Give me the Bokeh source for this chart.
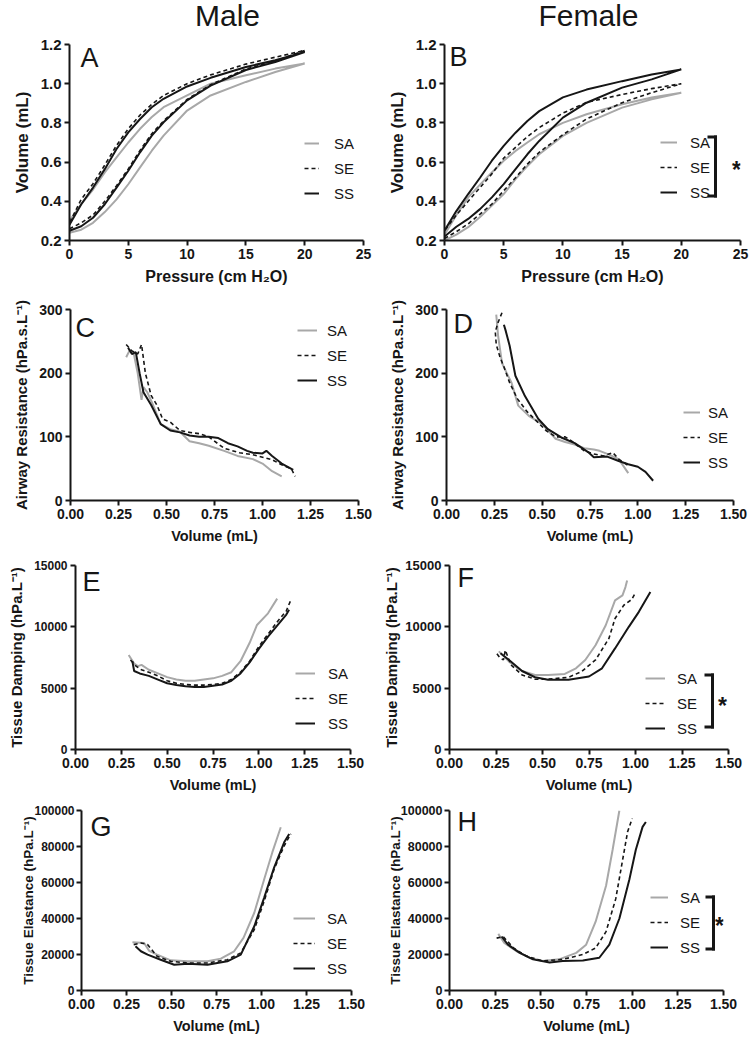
from bokeh.plotting import figure
from bokeh.layouts import column, row
from bokeh.models import (Range1d, FixedTicker, PrintfTickFormatter, Legend, LegendItem,
                          Label, BoxAnnotation)
from bokeh.embed import file_html
from bokeh.resources import INLINE

# ---------------------------------------------------------------- data
groups = ["SA", "SE", "SS"]
column_titles = ["Male", "Female"]

# Pressure-volume loops (pressure in cm H2O, volume in mL)
pressure = [0, 1, 2, 3, 4, 5, 6, 7, 8, 10, 12, 15, 17.5, 20]

male_SA_inflation = [0.24, 0.255, 0.29, 0.345, 0.41, 0.487, 0.573, 0.658, 0.735, 0.863, 0.94, 1.009, 1.06, 1.103]
male_SA_deflation = [0.30, 0.385, 0.46, 0.547, 0.624, 0.70, 0.77, 0.83, 0.88, 0.94, 1.0, 1.043, 1.077, 1.103]
male_SE_inflation = [0.26, 0.29, 0.33, 0.40, 0.48, 0.565, 0.66, 0.745, 0.81, 0.92, 0.995, 1.075, 1.115, 1.17]
male_SE_deflation = [0.29, 0.41, 0.49, 0.585, 0.685, 0.77, 0.84, 0.895, 0.94, 1.0, 1.045, 1.10, 1.135, 1.17]
male_SS_inflation = [0.25, 0.273, 0.316, 0.385, 0.47, 0.556, 0.65, 0.735, 0.803, 0.915, 0.99, 1.07, 1.11, 1.162]
male_SS_deflation = [0.28, 0.385, 0.47, 0.564, 0.667, 0.752, 0.82, 0.88, 0.923, 0.986, 1.03, 1.085, 1.12, 1.162]

female_SA_inflation = [0.20, 0.23, 0.268, 0.32, 0.378, 0.437, 0.513, 0.58, 0.64, 0.734, 0.80, 0.878, 0.92, 0.954]
female_SA_deflation = [0.23, 0.33, 0.42, 0.485, 0.547, 0.607, 0.657, 0.70, 0.742, 0.80, 0.844, 0.895, 0.93, 0.954]
female_SE_inflation = [0.21, 0.245, 0.285, 0.335, 0.386, 0.454, 0.52, 0.59, 0.65, 0.74, 0.82, 0.903, 0.954, 1.0]
female_SE_deflation = [0.25, 0.33, 0.40, 0.47, 0.54, 0.62, 0.675, 0.73, 0.776, 0.85, 0.905, 0.945, 0.975, 1.0]
female_SS_inflation = [0.22, 0.27, 0.31, 0.36, 0.42, 0.488, 0.564, 0.64, 0.708, 0.827, 0.903, 0.98, 1.022, 1.073]
female_SS_deflation = [0.25, 0.35, 0.437, 0.52, 0.607, 0.683, 0.75, 0.81, 0.86, 0.93, 0.97, 1.013, 1.047, 1.073]

# Airway resistance (hPa.s.L-1) vs volume (mL)
male_res_SA_vol = [0.29, 0.31, 0.33, 0.35, 0.37, 0.38, 0.40, 0.43, 0.47, 0.52, 0.57, 0.62, 0.67, 0.72, 0.80, 0.87, 0.95, 1.00, 1.05, 1.10]
male_res_SA = [225, 237, 230, 200, 158, 178, 170, 150, 120, 112, 108, 93, 90, 86, 78, 70, 65, 58, 46, 38]
male_res_SE_vol = [0.29, 0.32, 0.35, 0.37, 0.39, 0.42, 0.45, 0.48, 0.52, 0.57, 0.62, 0.67, 0.72, 0.80, 0.88, 0.95, 1.00, 1.05, 1.10, 1.15, 1.17]
male_res_SE = [245, 235, 230, 245, 200, 165, 150, 128, 123, 110, 107, 105, 100, 82, 75, 72, 68, 64, 56, 50, 38]
male_res_SS_vol = [0.30, 0.32, 0.34, 0.36, 0.38, 0.42, 0.47, 0.52, 0.57, 0.62, 0.67, 0.72, 0.77, 0.82, 0.87, 0.92, 0.95, 1.00, 1.02, 1.05, 1.10, 1.16]
male_res_SS = [240, 230, 233, 200, 170, 150, 120, 110, 107, 102, 100, 100, 98, 90, 85, 78, 75, 74, 78, 70, 58, 48]

female_res_SA_vol = [0.26, 0.27, 0.29, 0.315, 0.34, 0.375, 0.43, 0.50, 0.57, 0.62, 0.67, 0.72, 0.77, 0.80, 0.85, 0.90, 0.95]
female_res_SA = [292, 258, 216, 200, 185, 149, 133, 120, 97, 92, 88, 82, 80, 78, 72, 65, 43]
female_res_SE_vol = [0.29, 0.27, 0.255, 0.26, 0.28, 0.30, 0.33, 0.37, 0.42, 0.47, 0.52, 0.57, 0.62, 0.67, 0.72, 0.77, 0.82, 0.87, 0.90, 0.95]
female_res_SE = [295, 280, 265, 245, 225, 210, 185, 160, 140, 125, 110, 100, 100, 90, 78, 73, 70, 75, 65, 55]
female_res_SS_vol = [0.30, 0.31, 0.33, 0.36, 0.41, 0.48, 0.53, 0.60, 0.67, 0.74, 0.77, 0.84, 0.90, 0.95, 1.00, 1.04, 1.08]
female_res_SS = [276, 266, 243, 196, 164, 128, 112, 99, 90, 76, 68, 69, 62, 57, 53, 45, 31]

# Tissue damping (hPa.L-1) vs volume (mL)
male_damp_SA_vol = [0.29, 0.32, 0.34, 0.36, 0.40, 0.45, 0.50, 0.55, 0.60, 0.65, 0.70, 0.75, 0.80, 0.85, 0.90, 0.95, 0.99, 1.05, 1.10]
male_damp_SA = [7700, 7000, 6800, 6900, 6500, 6200, 5900, 5700, 5600, 5600, 5700, 5800, 6000, 6300, 7200, 8700, 10150, 11100, 12300]
male_damp_SE_vol = [0.30, 0.33, 0.36, 0.40, 0.45, 0.50, 0.55, 0.60, 0.65, 0.70, 0.75, 0.80, 0.85, 0.90, 0.95, 1.00, 1.05, 1.10, 1.15, 1.175]
male_damp_SE = [7300, 6800, 6500, 6300, 6000, 5600, 5400, 5300, 5250, 5250, 5300, 5400, 5700, 6300, 7200, 8400, 9400, 10400, 11300, 12200]
male_damp_SS_vol = [0.31, 0.32, 0.35, 0.40, 0.45, 0.50, 0.55, 0.60, 0.65, 0.70, 0.75, 0.80, 0.85, 0.90, 0.95, 1.00, 1.05, 1.10, 1.15, 1.165]
male_damp_SS = [7200, 6400, 6200, 6000, 5700, 5400, 5250, 5150, 5100, 5100, 5200, 5300, 5600, 6200, 7100, 8200, 9200, 10100, 11000, 11400]

female_damp_SA_vol = [0.265, 0.30, 0.32, 0.36, 0.39, 0.46, 0.53, 0.62, 0.68, 0.73, 0.785, 0.84, 0.89, 0.93, 0.946, 0.955]
female_damp_SA = [8000, 7500, 7160, 6700, 6400, 6080, 6080, 6160, 6620, 7300, 8500, 10130, 12160, 12570, 13240, 13780]
female_damp_SE_vol = [0.255, 0.27, 0.29, 0.30, 0.31, 0.33, 0.39, 0.46, 0.53, 0.64, 0.71, 0.785, 0.857, 0.89, 0.937, 0.98, 1.00]
female_damp_SE = [7800, 7500, 7300, 8100, 7700, 6900, 6080, 5730, 5730, 5890, 6350, 7300, 9050, 10680, 11760, 12240, 12800]
female_damp_SS_vol = [0.274, 0.32, 0.39, 0.46, 0.53, 0.64, 0.75, 0.82, 0.89, 0.964, 1.018, 1.054, 1.08]
female_damp_SS = [7840, 7300, 6400, 5890, 5680, 5680, 5950, 6620, 8240, 10000, 11220, 12160, 12840]

# Tissue elastance (hPa.L-1) vs volume (mL)
male_elas_SA_vol = [0.283, 0.348, 0.376, 0.42, 0.496, 0.59, 0.70, 0.774, 0.848, 0.90, 0.96, 1.015, 1.06, 1.107]
male_elas_SA = [26800, 26400, 22000, 19900, 16760, 16200, 16200, 17700, 21800, 29200, 43200, 61800, 76700, 90700]
male_elas_SE_vol = [0.29, 0.33, 0.367, 0.42, 0.496, 0.59, 0.70, 0.81, 0.885, 0.96, 1.015, 1.07, 1.126, 1.163]
male_elas_SE = [25500, 26400, 25500, 19000, 16200, 15300, 15300, 17100, 20900, 33900, 49700, 67400, 80400, 87000]
male_elas_SS_vol = [0.30, 0.33, 0.367, 0.44, 0.515, 0.59, 0.70, 0.81, 0.885, 0.96, 1.015, 1.07, 1.126, 1.154]
male_elas_SS = [24600, 21800, 19900, 17100, 14300, 14900, 14300, 16200, 19900, 35700, 51600, 68300, 82300, 87000]

female_elas_SA_vol = [0.267, 0.30, 0.367, 0.44, 0.51, 0.60, 0.694, 0.748, 0.80, 0.857, 0.893, 0.93]
female_elas_SA = [31450, 26400, 21800, 18200, 16400, 17300, 20900, 25450, 38200, 58200, 78200, 100000]
female_elas_SE_vol = [0.258, 0.294, 0.35, 0.42, 0.51, 0.62, 0.73, 0.80, 0.857, 0.91, 0.948, 0.975, 1.00]
female_elas_SE = [29100, 30000, 23600, 19100, 16400, 17300, 20000, 23600, 32700, 50900, 72700, 88200, 95500]
female_elas_SS_vol = [0.285, 0.32, 0.385, 0.457, 0.548, 0.62, 0.73, 0.82, 0.875, 0.93, 0.985, 1.02, 1.057, 1.075]
female_elas_SS = [30000, 25450, 20900, 17300, 15500, 16400, 16700, 18200, 25450, 40000, 61800, 78200, 90900, 93600]

# ticks
pressure_ticks = [0, 5, 10, 15, 20, 25]
pv_volume_ticks = [0.2, 0.4, 0.6, 0.8, 1.0, 1.2]
volume_ticks = [0, 0.25, 0.5, 0.75, 1.0, 1.25, 1.5]
resistance_ticks = [0, 100, 200, 300]
damping_ticks = [0, 5000, 10000, 15000]
elastance_ticks = [0, 20000, 40000, 60000, 80000, 100000]

# ---------------------------------------------------------------- styles
FONT = "Liberation Sans"
GREY = "#a8a8a8"
INK = "#161616"
STYLE = {
    "SA": dict(line_color=GREY, line_width=2.0),
    "SE": dict(line_color=INK, line_width=1.6, line_dash="4 3"),
    "SS": dict(line_color=INK, line_width=2.0),
}


def make_panel(letter, width, height, borders, x_range, y_range, xticks, yticks,
               xfmt, yfmt, xlabel, ylabel, ytick_size, ylabel_size, xlabel_size,
               series, legend_cfg, letter_pos, bracket=None,
               ylabel_standoff=6, ytick_standoff=3):
    left, right, top, bottom = borders
    p = figure(width=width, height=height, output_backend="svg", toolbar_location=None,
               x_range=Range1d(*x_range), y_range=Range1d(*y_range),
               min_border_left=left, min_border_right=right,
               min_border_top=top, min_border_bottom=bottom)
    p.xgrid.visible = False
    p.ygrid.visible = False
    p.outline_line_color = None
    p.background_fill_color = "white"
    p.border_fill_color = "white"

    for ax, ticks, fmt, lab, tsize, lsize, lstand, tstand in (
            (p.xaxis[0], xticks, xfmt, xlabel, "14px", xlabel_size, 6, 3),
            (p.yaxis[0], yticks, yfmt, ylabel, ytick_size, ylabel_size, ylabel_standoff, ytick_standoff)):
        ax.ticker = FixedTicker(ticks=ticks)
        ax.formatter = PrintfTickFormatter(format=fmt)
        ax.axis_label = lab
        ax.axis_line_width = 2
        ax.axis_line_color = INK
        ax.major_tick_line_width = 2
        ax.major_tick_line_color = INK
        ax.major_tick_in = 0
        ax.major_tick_out = 5
        ax.minor_tick_line_color = None
        ax.major_label_text_font = FONT
        ax.major_label_text_font_style = "bold"
        ax.major_label_text_font_size = tsize
        ax.major_label_text_color = INK
        ax.major_label_standoff = tstand
        ax.axis_label_text_font = FONT
        ax.axis_label_text_font_style = "bold"
        ax.axis_label_text_font_size = lsize
        ax.axis_label_text_color = INK
        ax.axis_label_standoff = lstand

    items = []
    for g, (xs, ys) in zip(groups, series):
        r = p.line(xs, ys, **STYLE[g])
        items.append(LegendItem(label=g, renderers=[r]))

    gw, standoff, lx, ly = legend_cfg
    legend = Legend(items=items, location=(lx, ly), padding=0, margin=0, spacing=5,
                    glyph_width=gw, glyph_height=20, label_height=20,
                    label_standoff=standoff, border_line_alpha=0,
                    background_fill_alpha=0, label_text_font=FONT,
                    label_text_font_size="15px", label_text_color=INK)
    p.add_layout(legend)

    p.add_layout(Label(x=letter_pos[0], y=letter_pos[1], x_units="screen", y_units="screen",
                       text=letter, text_font=FONT, text_font_size="27px",
                       text_color=INK, text_baseline="alphabetic", text_align="left"))

    if bracket is not None:
        bx, b0, b1, ax_, ay_ = bracket
        for (l, r_, b, t) in ((bx - 1.5, bx + 1.5, b0, b1),
                              (bx - 8, bx + 1.5, b1 - 3, b1),
                              (bx - 8, bx + 1.5, b0, b0 + 3)):
            p.add_layout(BoxAnnotation(left=l, right=r_, bottom=b, top=t,
                                       left_units="screen", right_units="screen",
                                       bottom_units="screen", top_units="screen",
                                       fill_color=INK, fill_alpha=1, line_alpha=0))
        p.add_layout(Label(x=ax_, y=ay_, x_units="screen", y_units="screen", text="*",
                           text_font=FONT, text_font_size="23px", text_font_style="bold",
                           text_color=INK, text_align="center", text_baseline="alphabetic"))
    return p


def loop(infl, defl):
    return pressure + pressure[::-1], infl + defl[::-1]


# header with the two column titles
header = figure(width=750, height=34, output_backend="svg", toolbar_location=None,
                x_range=Range1d(0, 750), y_range=Range1d(0, 34),
                x_axis_type=None, y_axis_type=None, min_border=0)
header.grid.visible = False
header.outline_line_color = None
for txt, cx in zip(column_titles, (227, 588)):
    header.add_layout(Label(x=cx, y=19, x_units="screen", y_units="screen", text=txt,
                            text_font=FONT, text_font_size="30px", text_color=INK,
                            text_align="center", text_baseline="alphabetic"))

pv_label_x = "Pressure (cm H\u2082O)"
vol_label = "Volume (mL)"
res_label = "Airway Resistance (hPa.s.L\u207b\u00b9)"
damp_label = "Tissue Damping (hPa.L\u207b\u00b9)"
elas_label = "Tissue Elastance (hPa.L\u207b\u00b9)"

pA = make_panel("A", 375, 256, (69, 12, 10, 50), (0, 25), (0.2, 1.2), pressure_ticks, pv_volume_ticks,
                "%d", "%.1f", pv_label_x, vol_label, "15px", "17px", "16px",
                [loop(male_SA_inflation, male_SA_deflation),
                 loop(male_SE_inflation, male_SE_deflation),
                 loop(male_SS_inflation, male_SS_deflation)],
                (15, 15, 235, 37), (11, 183))
pB = make_panel("B", 375, 256, (69, 10, 10, 50), (0, 25), (0.2, 1.2), pressure_ticks, pv_volume_ticks,
                "%d", "%.1f", pv_label_x, vol_label, "15px", "17px", "16px",
                [loop(female_SA_inflation, female_SA_deflation),
                 loop(female_SE_inflation, female_SE_deflation),
                 loop(female_SS_inflation, female_SS_deflation)],
                (17, 13, 216, 38), (5, 184), bracket=(271, 43, 105, 292, 70.5))

pC = make_panel("C", 375, 263, (70, 17, 19, 53), (0, 1.5), (0, 300), volume_ticks, resistance_ticks,
                "%.2f", "%d", vol_label, res_label, "14px", "15px", "14.5px",
                [(male_res_SA_vol, male_res_SA), (male_res_SE_vol, male_res_SE),
                 (male_res_SS_vol, male_res_SS)],
                (20, 10, 227, 110), (5, 173))
pD = make_panel("D", 375, 263, (71, 17, 19, 53), (0, 1.5), (0, 300), volume_ticks, resistance_ticks,
                "%.2f", "%d", vol_label, res_label, "14px", "15px", "14.5px",
                [(female_res_SA_vol, female_res_SA), (female_res_SE_vol, female_res_SE),
                 (female_res_SS_vol, female_res_SS)],
                (17, 8, 237, 28), (7, 176.5))

pE = make_panel("E", 367, 247, (75, 17, 12, 51), (0, 1.5), (0, 15000), volume_ticks, damping_ticks,
                "%.2f", "%d", vol_label, damp_label, "12px", "15px", "14.5px",
                [(male_damp_SA_vol, male_damp_SA), (male_damp_SE_vol, male_damp_SE),
                 (male_damp_SS_vol, male_damp_SS)],
                (20, 13, 220, 16), (7, 168))
pF = make_panel("F", 383, 247, (82, 22, 12, 51), (0, 1.5), (0, 15000), volume_ticks, damping_ticks,
                "%.2f", "%d", vol_label, damp_label, "13px", "15px", "14.5px",
                [(female_damp_SA_vol, female_damp_SA), (female_damp_SE_vol, female_damp_SE),
                 (female_damp_SS_vol, female_damp_SS)],
                (20, 12, 196, 11), (8, 172), bracket=(263, 21, 76, 273, 43.5),
                ylabel_standoff=2)

pG = make_panel("G", 365, 241, (81, 14, 10, 51), (0, 1.5), (0, 100000), volume_ticks, elastance_ticks,
                "%.2f", "%d", vol_label, elas_label, "12px", "13.5px", "14.5px",
                [(male_elas_SA_vol, male_elas_SA), (male_elas_SE_vol, male_elas_SE),
                 (male_elas_SS_vol, male_elas_SS)],
                (22, 12, 212, 12), (9, 164), ylabel_standoff=-5, ytick_standoff=2)
pH = make_panel("H", 385, 241, (84, 27, 10, 51), (0, 1.5), (0, 100000), volume_ticks, elastance_ticks,
                "%.2f", "%d", vol_label, elas_label, "12.5px", "13.5px", "14.5px",
                [(female_elas_SA_vol, female_elas_SA), (female_elas_SE_vol, female_elas_SE),
                 (female_elas_SS_vol, female_elas_SS)],
                (18, 12, 201, 33), (8, 169), bracket=(264, 40, 95, 270, 64.5),
                ylabel_standoff=-5, ytick_standoff=2)

layout = column(header, row(pA, pB), row(pC, pD), row(pE, pF), row(pG, pH))

open("out.html", "w").write(file_html(layout, INLINE))
